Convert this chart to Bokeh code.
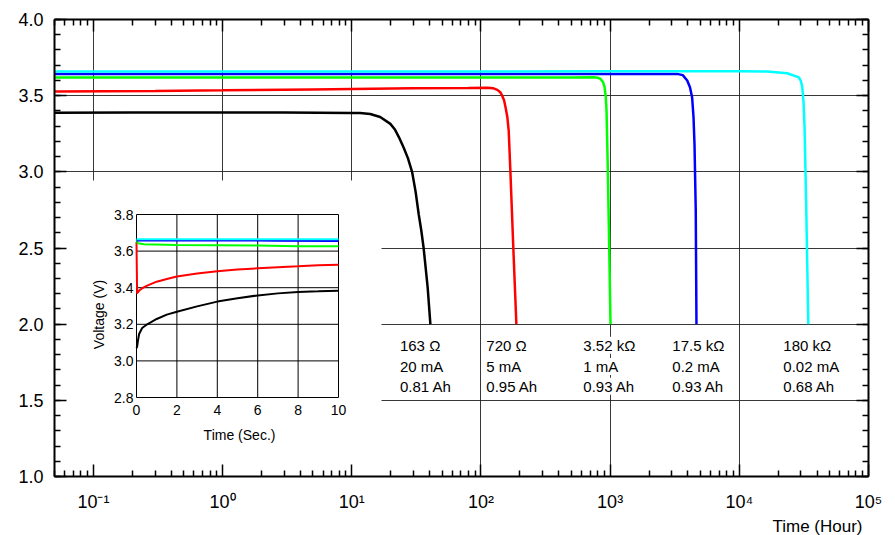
import math
from bokeh.plotting import figure
from bokeh.models import (FixedTicker, LogAxis, LinearAxis, Range1d, LinearScale,
                          Title, PrintfTickFormatter, CustomJSTickFormatter)
from bokeh.core.properties import value
from bokeh.embed import file_html
from bokeh.resources import INLINE

# ------------------------------------------------------------------ data
x_major_ticks = [0.1, 1, 10, 100, 1000, 10000, 100000]
x_tick_labels = ["10\u207b\u00b9", "10\u2070", "10\u00b9", "10\u00b2", "10\u00b3", "10\u2074", "10\u2075"]
y_major_ticks = [1.0, 1.5, 2.0, 2.5, 3.0, 3.5, 4.0]

# main discharge curves: time in hours, voltage in V
black_h = [0.05, 0.2, 1, 3, 10, 11.6, 13.9, 16.6, 19.9, 21.5, 23.1, 25.2, 27.2, 29.3, 31.2, 33.0, 34.6, 36.0, 38.7, 40.6]
black_v = [3.388, 3.389, 3.39, 3.39, 3.387, 3.386, 3.38, 3.36, 3.315, 3.28, 3.23, 3.16, 3.09, 3.0, 2.87, 2.72, 2.61, 2.5, 2.24, 2.0]

red_h = [0.05, 0.3, 1, 5, 10, 30, 80, 112, 125, 134, 141, 146, 151, 155, 160, 164, 169, 178, 188]
red_v = [3.528, 3.531, 3.535, 3.541, 3.544, 3.548, 3.55, 3.552, 3.548, 3.538, 3.523, 3.50, 3.47, 3.424, 3.36, 3.271, 3.004, 2.505, 2.0]

green_h = [0.05, 1, 10, 100, 500, 748, 800, 843, 880, 906, 925, 938, 960, 984, 1007]
green_v = [3.619, 3.62, 3.62, 3.62, 3.62, 3.621, 3.618, 3.61, 3.59, 3.556, 3.49, 3.40, 3.01, 2.505, 2.0]

blue_h = [0.05, 1, 100, 1000, 3300, 3650, 3950, 4150, 4310, 4420, 4500, 4600, 4660]
blue_v = [3.643, 3.643, 3.643, 3.643, 3.643, 3.635, 3.60, 3.555, 3.49, 3.36, 3.18, 2.745, 2.0]

cyan_h = [0.05, 1, 100, 1000, 10000, 16400, 23500, 28900, 30000, 30700, 31400, 32000, 33000, 34200]
cyan_v = [3.658, 3.658, 3.659, 3.66, 3.66, 3.658, 3.647, 3.62, 3.595, 3.556, 3.46, 3.29, 2.745, 2.0]

# inset: first 10 seconds
ins_black_t = [0.0, 0.03, 0.07, 0.13, 0.28, 0.53, 1, 1.5, 2, 3, 4, 5, 6, 7, 8, 9, 10]
ins_black_v = [3.07, 3.077, 3.11, 3.147, 3.18, 3.20, 3.229, 3.253, 3.269, 3.298, 3.324, 3.342, 3.358, 3.369, 3.377, 3.38, 3.384]

ins_red_t = [0.0, 0.03, 0.13, 0.28, 0.53, 1, 1.5, 2, 3, 4, 5, 6, 7, 8, 9, 10]
ins_red_v = [3.65, 3.369, 3.384, 3.397, 3.411, 3.433, 3.448, 3.461, 3.477, 3.49, 3.499, 3.506, 3.512, 3.517, 3.523, 3.526]

ins_green_t = [0.0, 0.07, 0.37, 2, 6, 8, 10]
ins_green_v = [3.661, 3.643, 3.638, 3.634, 3.630, 3.627, 3.627]

ins_blue_t = [0.0, 2, 4, 7, 10]
ins_blue_v = [3.658, 3.658, 3.658, 3.657, 3.655]

ins_cyan_t = [0.0, 2, 5, 10]
ins_cyan_v = [3.665, 3.665, 3.665, 3.665]

ins_x_ticks = [0, 2, 4, 6, 8, 10]
ins_x_labels = ["0", "2", "4", "6", "8", "10"]
ins_y_ticks = [2.8, 3.0, 3.2, 3.4, 3.6, 3.8]
ins_y_labels = ["2.8", "3.0", "3.2", "3.4", "3.6", "3.8"]

# annotations
ann_x = [23.6, 110, 620, 3030, 21900]
ann_resist = ["163 \u03a9", "720 \u03a9", "3.52 k\u03a9", "17.5 k\u03a9", "180 k\u03a9"]
ann_current = ["20 mA", "5 mA", "1 mA", "0.2 mA", "0.02 mA"]
ann_capacity = ["0.81 Ah", "0.95 Ah", "0.93 Ah", "0.93 Ah", "0.68 Ah"]

# ------------------------------------------------------------------ layout
W, H = 895, 535
FL, FR, FT, FB = 54, 27, 19, 59          # frame borders in canvas px
FW, FH = W - FL - FR, H - FT - FB        # 814 x 457
FONT = "Liberation Sans"

p = figure(width=W, height=H, x_axis_type="log",
           x_range=Range1d(0.05, 1e5), y_range=Range1d(1.0, 4.0),
           output_backend="svg", toolbar_location=None,
           min_border_left=FL, min_border_right=FR, min_border_top=FT, min_border_bottom=FB)
p.outline_line_color = None
p.background_fill_color = "white"
p.border_fill_color = "white"

bottom_ax = p.below[0]
left_ax = p.left[0]

x_minor = [m * 10.0 ** e for e in range(-2, 5) for m in range(2, 10)]
y_minor = [round(1.0 + 0.1 * i, 2) for i in range(31)]
xticker = FixedTicker(ticks=x_major_ticks, minor_ticks=x_minor)
yticker = FixedTicker(ticks=y_major_ticks, minor_ticks=y_minor)

blank = CustomJSTickFormatter(code="return ''")
top_ax = LogAxis(ticker=xticker, formatter=blank)
right_ax = LinearAxis(ticker=yticker, formatter=blank)
p.add_layout(top_ax, "above")
p.add_layout(right_ax, "right")

bottom_ax.ticker = xticker
left_ax.ticker = yticker

for ax in [bottom_ax, top_ax, left_ax, right_ax]:
    ax.axis_line_width = 2
    ax.axis_line_color = "black"
    ax.major_tick_in = 12
    ax.major_tick_out = 0
    ax.minor_tick_in = 6
    ax.minor_tick_out = 0
    ax.major_tick_line_width = 1.5
    ax.minor_tick_line_width = 1.5
    ax.major_tick_line_color = "black"
    ax.minor_tick_line_color = "black"
    ax.major_label_text_font = FONT
    ax.major_label_text_color = "black"

for ax in [top_ax, right_ax]:
    ax.major_label_standoff = 0

bottom_ax.major_label_text_font_size = "18px"
bottom_ax.major_label_standoff = 15
bottom_ax.major_label_overrides = dict(zip(x_major_ticks, x_tick_labels))
left_ax.major_label_text_font_size = "18px"
left_ax.major_label_standoff = 11
left_ax.formatter = PrintfTickFormatter(format="%.1f")

p.xgrid.ticker = xticker
p.ygrid.ticker = yticker
for g in [p.xgrid, p.ygrid]:
    g.grid_line_color = "#222222"
    g.grid_line_width = 1
    g.grid_line_alpha = 0.9

# x axis title at the right, below the tick labels
p.add_layout(Title(text="Time (Hour)", align="right", offset=6, standoff=0,
                   text_font=FONT, text_font_size="17px", text_font_style="normal",
                   text_color="black"), "below")

# ---- inset coordinate system (linear), mapped onto the main frame
IL, IR, IT, IB = 82, 284, 195, 378       # inset frame inside main frame (px)
sx = 10.0 / (IR - IL)
sy = 1.0 / (IB - IT)
p.extra_x_ranges = {"ins": Range1d(0 - IL * sx, 10 + (FW - IR) * sx)}
p.extra_x_scales = {"ins": LinearScale()}
p.extra_y_ranges = {"ins": Range1d(2.8 - (FH - IB) * sy, 3.8 + IT * sy)}
p.extra_y_scales = {"ins": LinearScale()}
INS = dict(x_range_name="ins", y_range_name="ins")

# white panel behind inset
p.quad(left=0 - IL * sx, right=0 + (327 - IL) * sx,
       bottom=2.8 - (FH - IB) * sy, top=3.8 + (IT - 161) * sy,
       fill_color="white", line_color=None, **INS)

# inset grid and frame
p.segment(x0=ins_x_ticks, y0=[2.8] * len(ins_x_ticks), x1=ins_x_ticks, y1=[3.8] * len(ins_x_ticks),
          line_color="black", line_width=1, **INS)
p.segment(x0=[0] * len(ins_y_ticks), y0=ins_y_ticks, x1=[10] * len(ins_y_ticks), y1=ins_y_ticks,
          line_color="black", line_width=1, **INS)

# inset curves
for t, v, c in [(ins_black_t, ins_black_v, "black"), (ins_red_t, ins_red_v, "#ff0000"),
                (ins_green_t, ins_green_v, "#00ff00"), (ins_blue_t, ins_blue_v, "#0000ff"),
                (ins_cyan_t, ins_cyan_v, "#00ffff")]:
    p.line(t, v, line_color=c, line_width=2, **INS)

# inset tick labels and titles
p.text(x=[0 - 3 * sx] * len(ins_y_ticks), y=ins_y_ticks, text=ins_y_labels,
       text_align="right", text_baseline="middle", text_font=value(FONT),
       text_font_size="14px", text_color="black", **INS)
p.text(x=ins_x_ticks, y=[2.8 - 12 * sy] * len(ins_x_ticks), text=ins_x_labels,
       text_align="center", text_baseline="middle", text_font=value(FONT),
       text_font_size="14px", text_color="black", **INS)
p.text(x=[0 - 38 * sx], y=[3.8 - 100 * sy], text=["Voltage (V)"], angle=math.pi / 2,
       text_align="center", text_baseline="middle", text_font=value(FONT),
       text_font_size="14px", text_color="black", **INS)
p.text(x=[5.1], y=[3.8 - 220 * sy], text=["Time (Sec.)"],
       text_align="center", text_baseline="middle", text_font=value(FONT),
       text_font_size="14px", text_color="black", **INS)

# main curves
for h, v, c in [(black_h, black_v, "black"), (red_h, red_v, "#ff0000"),
                (green_h, green_v, "#00ff00"), (blue_h, blue_v, "#0000ff"),
                (cyan_h, cyan_v, "#00ffff")]:
    p.line(h, v, line_color=c, line_width=2.5)

# annotation blocks (three text rows under each curve)
row_v = [1.862, 1.722, 1.592]
for rv, texts in zip(row_v, [ann_resist, ann_current, ann_capacity]):
    p.text(x=ann_x, y=[rv] * len(ann_x), text=texts,
           text_align="left", text_baseline="middle", text_font=value(FONT),
           text_font_size="15px", text_color="black",
           background_fill_color="white")

open("out.html", "w").write(file_html(p, INLINE))
